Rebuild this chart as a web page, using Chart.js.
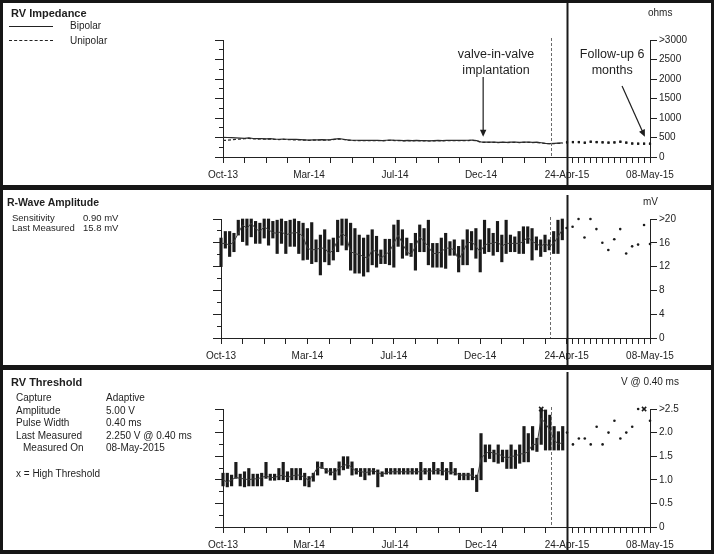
<!DOCTYPE html>
<html><head><meta charset="utf-8">
<script src="https://cdn.jsdelivr.net/npm/chart.js@4.4.1/dist/chart.umd.min.js"></script>
<style>
html,body{margin:0;padding:0;background:#fff;}
#frame{position:relative;width:714px;height:554px;background:#161616;overflow:hidden;font-family:'Liberation Sans',Arial,Helvetica,sans-serif;color:#1e1e1e;}
.panel{position:absolute;left:3px;width:708px;background:#fff;overflow:hidden;}
.panel canvas{position:absolute;left:0;top:0;}
.t{position:absolute;white-space:nowrap;font-size:10px;line-height:12px;}
.b{font-weight:bold;font-size:11px;line-height:13px;}
.lg{position:absolute;height:0;}
</style></head>
<body>
<div id="frame">
  <div class="panel" id="p1" style="top:3px;height:182px;">
    <canvas id="c1" width="708" height="182"></canvas>
    <div class="t b" style="left:8px;top:4px;">RV Impedance</div>
    <div class="lg" style="left:6px;top:23px;width:44px;border-top:1px solid #222;"></div>
    <div class="t" style="left:67px;top:17px;">Bipolar</div>
    <div class="lg" style="left:6px;top:37px;width:44px;border-top:1px dashed #222;"></div>
    <div class="t" style="left:67px;top:32px;">Unipolar</div>
    <div class="t" style="left:645px;top:4px;">ohms</div>
  </div>
  <div class="panel" id="p2" style="top:190px;height:175px;">
    <canvas id="c2" width="708" height="175"></canvas>
    <div class="t b" style="left:4px;top:6px;font-size:10.5px;">R-Wave Amplitude</div>
    <div class="t" style="left:9px;top:22px;font-size:9.5px;">Sensitivity</div>
    <div class="t" style="left:80px;top:22px;font-size:9.5px;">0.90 mV</div>
    <div class="t" style="left:9px;top:32px;font-size:9.5px;">Last Measured</div>
    <div class="t" style="left:80px;top:32px;font-size:9.5px;">15.8 mV</div>
    <div class="t" style="left:640px;top:6px;">mV</div>
  </div>
  <div class="panel" id="p3" style="top:370px;height:180px;">
    <canvas id="c3" width="708" height="180"></canvas>
    <div class="t b" style="left:8px;top:6px;">RV Threshold</div>
    <div class="t" style="left:13px;top:22px;">Capture</div>
    <div class="t" style="left:103px;top:22px;">Adaptive</div>
    <div class="t" style="left:13px;top:35px;">Amplitude</div>
    <div class="t" style="left:103px;top:35px;">5.00 V</div>
    <div class="t" style="left:13px;top:47px;">Pulse Width</div>
    <div class="t" style="left:103px;top:47px;">0.40 ms</div>
    <div class="t" style="left:13px;top:60px;">Last Measured</div>
    <div class="t" style="left:103px;top:60px;">2.250 V @ 0.40 ms</div>
    <div class="t" style="left:20px;top:72px;">Measured On</div>
    <div class="t" style="left:103px;top:72px;">08-May-2015</div>
    <div class="t" style="left:13px;top:98px;">x = High Threshold</div>
    <div class="t" style="left:618px;top:6px;">V @ 0.40 ms</div>
  </div>
</div>
<script>
// ---------------- DATA ----------------
const xWeekLabels = ['Oct-13', 'Mar-14', 'Jul-14', 'Dec-14'];
const xWeekLabelAt = [0, 20, 40, 60];
const splitLabel = '24-Apr-15';
const endLabel = '08-May-15';
const WEEKS = 80;      // weekly summaries before 24-Apr-15
const DAYS = 14;       // daily measurements 24-Apr-15 .. 08-May-15

const impAxisLabels = ['0', '500', '1000', '1500', '2000', '2500', '>3000'];
const rwAxisLabels = ['0', '4', '8', '12', '16', '>20'];
const thAxisLabels = ['0', '0.5', '1.0', '1.5', '2.0', '>2.5'];
const impAxisMax = 3000, rwAxisMax = 20, thAxisMax = 2.5;

const impBipolar = [
  505,500,495,490,485, 480,490,475,470,470,
  465,470,460,455,460, 455,450,450,445,440,
  435,440,440,445,440, 445,460,470,455,440,
  430,430,425,425,430, 425,430,420,430,435,
  430,425,420,425,420, 425,420,420,415,420,
  425,420,425,430,425, 430,425,430,435,420,
  385,380,385,380,375, 380,375,385,380,375,
  380,385,375,380,365, 350,345,350,355,360];
const impUnipolar = [
  425,430,440,450,460, 470,475,465,460,462,
  458,460,452,448,450, 448,442,440,438,432,
  428,432,434,436,432, 438,450,460,448,432,
  424,422,418,418,422, 418,422,414,422,428,
  422,418,414,418,414, 418,414,412,410,414,
  418,414,418,422,418, 422,418,422,428,412,
  378,374,378,374,370, 374,370,378,374,370,
  374,378,370,372,360, 345,340,345,350,352];
const impBipolarDaily = [380,385,385,370,395,385,380,372,378,395,372,350,345,345,345];
const impUnipolarDaily = [372,378,378,362,388,378,372,365,370,388,365,342,338,338,338];

const rwMax = [
  16.8,17.9,17.9,17.6,19.8,20,20,20,19.6,19.3,
  20,20,19.6,19.8,20,19.6,19.8,20,19.6,19.3,
  18.4,19.4,16.5,17.3,18.2,16.5,16.8,19.8,20,20,
  19.3,18.4,17.3,16.8,17.3,18.2,17.1,14.8,16.6,16.6,
  19,19.8,18.2,16.8,15.9,17.6,19,18.4,19.8,15.9,
  15.9,16.8,17.6,16.2,16.5,15.4,16.5,18.2,17.9,18.4,
  16.5,19.8,18.4,17.6,19.6,17.3,19.8,17.3,17,17.9,
  18.7,18.7,18.4,17,16.5,17.3,16.5,17.9,19.8,20];
const rwMin = [
  12,15.1,13.7,14.5,17.3,16.2,15.6,17,15.9,15.9,
  16.8,15.6,16.8,14.2,15.9,14.2,15.4,15.4,14.2,13.1,
  13.2,12.5,12.8,10.6,12.8,12.3,13.1,14.5,15.6,14.8,
  11.4,10.9,10.9,10.4,11.1,12.3,11.9,12.5,12.5,12.3,
  11.9,15.4,13.4,13.9,13.7,11.4,14.5,14.5,12.3,11.9,
  11.9,11.9,11.7,13.9,13.9,11.1,12.3,12.3,14.8,13.4,
  11.1,14.2,14.5,13.9,14.5,12.8,14.2,14.5,14.5,14.2,
  14.2,15.9,13.1,14.8,13.7,14.5,14.8,14.2,14.2,16.5];
const rwMean = [
  15.9,15.9,15.6,16.2,17.6,19,18.4,19.3,18.4,17.9,
  18.7,18.2,17.7,17.6,17.9,17.3,17.6,17.7,17.7,17,
  15.1,14.8,14.9,15.1,15.1,14.2,14.8,16.5,17.6,17,
  14.5,14.2,14,13.7,13.4,14.8,14.5,13.4,14,14.5,
  15.9,17.3,15.9,14.5,14,15.4,17,16.2,15.4,14.2,
  14.2,14.5,15.1,15.1,14.8,13.1,14.5,15.9,16.2,15.4,
  14.5,15.6,15.9,15.9,16.2,15.4,15.9,15.9,15.9,15.9,
  16.2,17,16.2,15.9,15.4,15.9,15.4,15.9,17,18.2];
const rwDaily = [18.5,18.7,20,16.9,20,18.3,16,14.8,16.6,18.3,14.2,15.4,15.7,19,15.8];

const thMax = [
  1.14,1.14,1.1,1.37,1.12,1.17,1.24,1.12,1.12,1.14,
  1.37,1.12,1.12,1.24,1.37,1.17,1.24,1.24,1.24,1.14,
  1.07,1.14,1.38,1.37,1.24,1.24,1.24,1.38,1.49,1.49,
  1.38,1.24,1.24,1.24,1.24,1.24,1.21,1.17,1.24,1.24,
  1.24,1.24,1.24,1.24,1.24,1.24,1.37,1.24,1.24,1.37,
  1.24,1.37,1.24,1.37,1.24,1.14,1.14,1.14,1.24,1.1,
  1.98,1.74,1.74,1.63,1.74,1.63,1.63,1.74,1.63,1.74,
  2.13,1.98,2.13,1.88,2.5,2.48,2.37,2.13,2.02,2.13];
const thMin = [
  0.87,0.85,0.87,1.03,0.87,0.85,0.87,0.87,0.87,0.87,
  1.03,0.99,0.99,1.0,1.0,0.96,1.0,1.0,1.0,0.87,
  0.85,0.97,1.1,1.24,1.14,1.1,1.0,1.1,1.21,1.24,
  1.1,1.12,1.07,1.0,1.1,1.12,0.85,1.07,1.12,1.12,
  1.12,1.12,1.12,1.12,1.12,1.12,1.0,1.12,1.0,1.12,
  1.12,1.1,1.0,1.12,1.1,1.0,1.0,1.0,1.0,0.75,
  1.0,1.38,1.45,1.38,1.35,1.38,1.24,1.24,1.24,1.35,
  1.38,1.38,1.63,1.6,1.75,1.63,1.63,1.63,1.63,1.63];
const thMean = [
  1.0,0.95,1.0,1.05,1.03,1.02,1.0,1.02,1.02,1.05,
  1.08,1.05,1.05,1.08,1.1,1.05,1.08,1.1,1.1,1.05,
  0.98,1.12,1.26,1.27,1.2,1.17,1.15,1.25,1.3,1.33,
  1.25,1.18,1.18,1.15,1.17,1.2,1.15,1.12,1.15,1.17,
  1.17,1.17,1.17,1.17,1.17,1.17,1.17,1.2,1.17,1.2,
  1.2,1.2,1.17,1.17,1.15,1.1,1.1,1.1,1.1,1.0,
  1.45,1.55,1.6,1.55,1.55,1.5,1.45,1.5,1.5,1.55,
  1.55,1.6,1.75,1.75,2.3,2.2,2.05,1.85,1.75,1.8];
const thDaily = [2.0,1.75,1.875,1.875,1.75,2.125,1.75,2.0,2.25,1.875,2.0,2.125,2.5,null,2.25];
const thHighWeeks = [74], thHighWeekValues = [2.5];
const thHighDays = [13], thHighDayValues = [2.5];

const DASH_WEEK = 76.2;   // dashed marker (session before follow-up)

// ---------------- MAPPING ----------------
const DAY = 19.3 / DAYS;
const XMAX = WEEKS + DAYS * DAY;
const dayX = d => WEEKS + d * DAY;

Chart.defaults.font.family = "'Liberation Sans', Arial, Helvetica, sans-serif";
Chart.defaults.font.size = 10;
Chart.defaults.color = '#222';

function xTicks() {
  const t = [];
  for (let w = 0; w <= WEEKS; w += 5) {
    const k = xWeekLabelAt.indexOf(w);
    t.push({value: w, lab: k >= 0 ? xWeekLabels[k] : (w === WEEKS ? splitLabel : '')});
  }
  for (let d = 1; d <= DAYS; d++) t.push({value: dayX(d), lab: d === DAYS ? endLabel : ''});
  return t;
}
function yTicks(labels, max) {
  const n = (labels.length - 1) * 2, t = [];
  for (let i = 0; i <= n; i++) t.push({value: max * i / n, lab: i % 2 === 0 ? labels[i / 2] : ''});
  return t;
}

const splitPlugin = {
  id: 'splitLines',
  afterDraw(chart, args, opts) {
    const {ctx, chartArea, scales: {x}} = chart;
    ctx.save();
    const xd = Math.round(x.getPixelForValue(DASH_WEEK)) + 0.5;
    ctx.strokeStyle = '#6a6a6a'; ctx.lineWidth = 1; ctx.setLineDash([3, 2]);
    ctx.beginPath(); ctx.moveTo(xd, chartArea.top - 2); ctx.lineTo(xd, chartArea.bottom); ctx.stroke();
    const xs = Math.round(x.getPixelForValue(WEEKS)) + 0.5;
    ctx.setLineDash([]); ctx.strokeStyle = '#1a1a1a'; ctx.lineWidth = 2;
    ctx.beginPath(); ctx.moveTo(xs, opts.top || 0); ctx.lineTo(xs, chart.height); ctx.stroke();
    ctx.restore();
  }
};

const notes = [
  {lines: ['valve-in-valve', 'implantation'], tx: 63.5, ty: [2615, 2205], from: [60.5, 2050], to: [60.5, 520]},
  {lines: ['Follow-up 6', 'months'], tx: 90.5, ty: [2615, 2205], from: [92.8, 1820], to: [98.1, 520]}
];
function arrow(ctx, x1, y1, x2, y2) {
  const a = Math.atan2(y2 - y1, x2 - x1), hl = 7, hw = 3.2;
  const c = Math.cos(a), s = Math.sin(a);
  ctx.beginPath(); ctx.moveTo(x1, y1); ctx.lineTo(x2 - hl * c * 0.7, y2 - hl * s * 0.7); ctx.stroke();
  ctx.beginPath(); ctx.moveTo(x2, y2);
  ctx.lineTo(x2 - hl * c + hw * s, y2 - hl * s - hw * c);
  ctx.lineTo(x2 - hl * c - hw * s, y2 - hl * s + hw * c);
  ctx.closePath(); ctx.fill();
}
const notePlugin = {
  id: 'notes',
  afterDatasetsDraw(chart) {
    const {ctx, scales: {x, y}} = chart;
    ctx.save();
    ctx.fillStyle = '#1e1e1e'; ctx.strokeStyle = '#1e1e1e'; ctx.lineWidth = 1.2;
    ctx.font = "12.5px 'Liberation Sans', Arial, sans-serif";
    ctx.textAlign = 'center'; ctx.textBaseline = 'middle';
    notes.forEach(n => {
      n.lines.forEach((s, i) => ctx.fillText(s, x.getPixelForValue(n.tx), y.getPixelForValue(n.ty[i])));
      arrow(ctx, x.getPixelForValue(n.from[0]), y.getPixelForValue(n.from[1]),
                 x.getPixelForValue(n.to[0]), y.getPixelForValue(n.to[1]));
    });
    ctx.restore();
  }
};

function buildChart(id, p) {
  const pad = {left: p.L - 3 - 8, right: 708 - (650 - 3) - 45, top: p.T - p.top, bottom: p.H - (p.B - p.top) - 22};
  const axisCommon = {
    type: 'linear', min: 0, max: p.max,
    border: {display: true, color: '#222', width: 1}
  };
  return new Chart(document.getElementById(id), {
    type: 'bar',
    data: {datasets: p.datasets},
    options: {
      responsive: false, animation: false, devicePixelRatio: 1, events: [],
      layout: {padding: pad},
      plugins: {legend: {display: false}, tooltip: {enabled: false}, splitLines: {top: p.lineTop}},
      scales: {
        x: {
          type: 'linear', position: 'bottom', min: 0, max: XMAX, offset: false,
          grid: {display: true, drawOnChartArea: false, drawTicks: true, tickLength: 6, tickColor: '#222', offset: false},
          border: {display: true, color: '#222', width: 1},
          ticks: {autoSkip: false, maxRotation: 0, minRotation: 0, padding: 6, color: '#222', font: {size: 10},
                  callback: (v, i, t) => t[i].lab},
          afterBuildTicks: s => { s.ticks = xTicks(); },
          afterFit: s => { s.height = 22; }
        },
        y: Object.assign({}, axisCommon, {
          position: 'right',
          grid: {display: true, drawOnChartArea: false, drawTicks: true, tickLength: 7, tickColor: '#222',
                 tickBorderDash: c => (c.index % 2 ? [4, 40] : [])},
          ticks: {padding: 2, color: '#222', font: {size: 10}, callback: (v, i, t) => t[i].lab},
          afterBuildTicks: s => { s.ticks = yTicks(p.labels, p.max); },
          afterFit: s => { s.width = 45; }
        }),
        yL: Object.assign({}, axisCommon, {
          position: 'left',
          grid: {display: true, drawOnChartArea: false, drawTicks: true, tickLength: 8, tickColor: '#222',
                 tickBorderDash: c => (c.index % 2 ? [0, 4, 5, 40] : [])},
          ticks: {display: false},
          afterBuildTicks: s => { s.ticks = yTicks(p.labels, p.max); },
          afterFit: s => { s.width = 8; }
        })
      }
    },
    plugins: [splitPlugin].concat(p.extra || [])
  });
}

const weekPts = arr => arr.map((v, i) => ({x: i, y: v}));
const dayPts = arr => arr.map((v, d) => ({x: dayX(d), y: v}));
const rangePts = (lo, hi) => lo.map((v, i) => ({x: i, y: [v, hi[i]]}));

// Panel 1: impedance
buildChart('c1', {
  top: 3, H: 182, L: 223, T: 40, B: 157, max: impAxisMax, labels: impAxisLabels, lineTop: 0, extra: [notePlugin],
  datasets: [
    {type: 'line', data: weekPts(impBipolar), borderColor: '#2a2a2a', borderWidth: 1.2, pointRadius: 0, yAxisID: 'y'},
    {type: 'line', data: weekPts(impUnipolar), borderColor: '#2a2a2a', borderWidth: 1.2, borderDash: [3, 2], pointRadius: 0, yAxisID: 'y'},
    {type: 'line', showLine: false, data: dayPts(impBipolarDaily), pointStyle: 'rect', pointRadius: 1.5,
     pointBackgroundColor: '#1a1a1a', pointBorderWidth: 0, yAxisID: 'y', clip: false},
    {type: 'line', showLine: false, data: dayPts(impUnipolarDaily), pointStyle: 'rect', pointRadius: 1.5,
     pointBackgroundColor: '#1a1a1a', pointBorderWidth: 0, yAxisID: 'y', clip: false}
  ]
});

// Panel 2: R-wave amplitude
buildChart('c2', {
  top: 190, H: 175, L: 221, T: 219, B: 338, max: rwAxisMax, labels: rwAxisLabels, lineTop: 5,
  datasets: [
    {type: 'line', data: weekPts(rwMean), borderColor: '#3c3c3c', borderWidth: 1, pointRadius: 0, yAxisID: 'y', order: 1},
    {type: 'bar', data: rangePts(rwMin, rwMax), backgroundColor: '#1a1a1a', borderWidth: 0, barThickness: 2.5, grouped: false, yAxisID: 'y', order: 2, clip: false},
    {type: 'line', showLine: false, data: dayPts(rwDaily), pointRadius: 1.3, pointBackgroundColor: '#1a1a1a', pointBorderWidth: 0, yAxisID: 'y', order: 0, clip: false}
  ]
});

// Panel 3: RV threshold
buildChart('c3', {
  top: 370, H: 180, L: 223, T: 409, B: 527, max: thAxisMax, labels: thAxisLabels, lineTop: 2,
  datasets: [
    {type: 'line', data: weekPts(thMean), borderColor: '#3c3c3c', borderWidth: 1, pointRadius: 0, yAxisID: 'y', order: 1},
    {type: 'bar', data: rangePts(thMin, thMax), backgroundColor: '#1a1a1a', borderWidth: 0, barThickness: 2.5, grouped: false, yAxisID: 'y', order: 2, clip: false},
    {type: 'line', showLine: false, data: dayPts(thDaily), pointRadius: 1.3, pointBackgroundColor: '#1a1a1a', pointBorderWidth: 0, yAxisID: 'y', order: 0, clip: false},
    {type: 'line', showLine: false, clip: false,
     data: thHighWeeks.map((w, i) => ({x: w, y: thHighWeekValues[i]})).concat(thHighDays.map((d, i) => ({x: dayX(d), y: thHighDayValues[i]}))),
     pointStyle: 'crossRot', pointRadius: 3, pointBorderColor: '#1a1a1a', pointBorderWidth: 1.5, yAxisID: 'y', order: 0}
  ]
});
</script>
</body></html>
